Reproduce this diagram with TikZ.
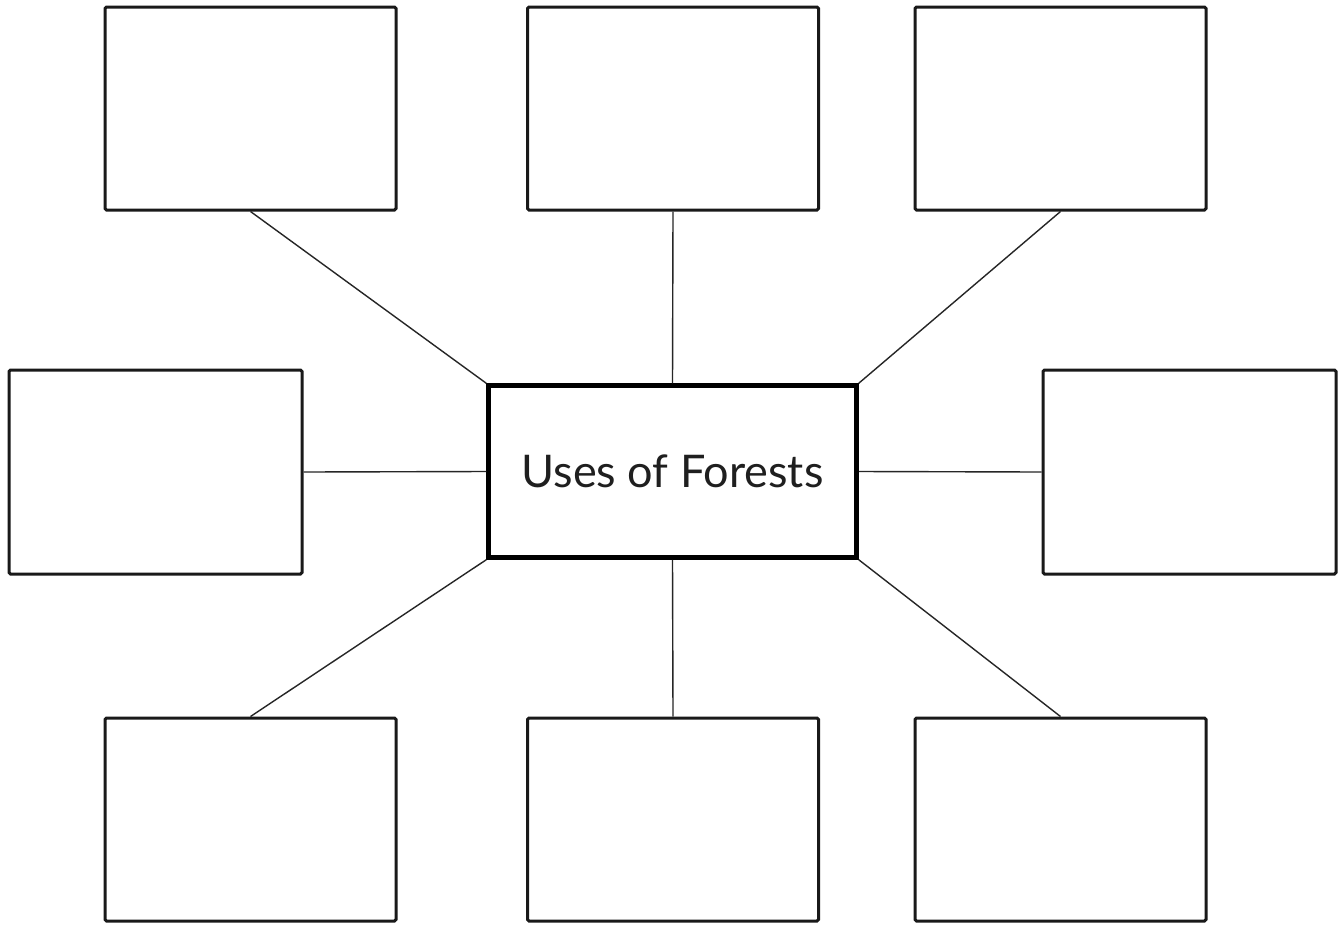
\documentclass[tikz,border=0pt]{standalone}
\usepackage{fontspec}
\setmainfont{Lato}
\begin{document}
\begin{tikzpicture}[x=1pt,y=-1pt,
  leaf/.style={draw=black!90,line width=3pt,rounded corners=1.5pt,minimum width=291pt,minimum height=203pt,inner sep=0pt,fill=white},
  hub/.style={draw=black,line width=4.5pt,minimum width=368pt,minimum height=172pt,inner sep=0pt,font=\fontsize{45}{54}\selectfont,text=black!88},
  link/.style={draw=black!85,line width=1.4pt}]
\useasboundingbox[fill=white] (0,0) rectangle (1343,924);
\node[hub] (c) at (672.5,471.5) {Uses of Forests};
\node[leaf] (tl) at (250.5,108.5) {};
\node[leaf] (tm) at (673,108.5) {};
\node[leaf] (tr) at (1060.5,108.5) {};
\node[leaf,minimum width=293pt,minimum height=204pt] (l) at (155.5,472) {};
\node[leaf,minimum width=293pt,minimum height=204pt] (r) at (1189.5,472) {};
\node[leaf] (bl) at (250.5,819.5) {};
\node[leaf] (bm) at (673,819.5) {};
\node[leaf] (br) at (1060.5,819.5) {};
\draw[link] (tl.south) -- (c.north west);
\draw[link] (tm.south) -- (c.north);
\draw[link] (tr.south) -- (c.north east);
\draw[link] (l.east) -- (c.west);
\draw[link] (r.west) -- (c.east);
\draw[link] (bl.north) -- (c.south west);
\draw[link] (bm.north) -- (c.south);
\draw[link] (br.north) -- (c.south east);
\end{tikzpicture}
\end{document}
